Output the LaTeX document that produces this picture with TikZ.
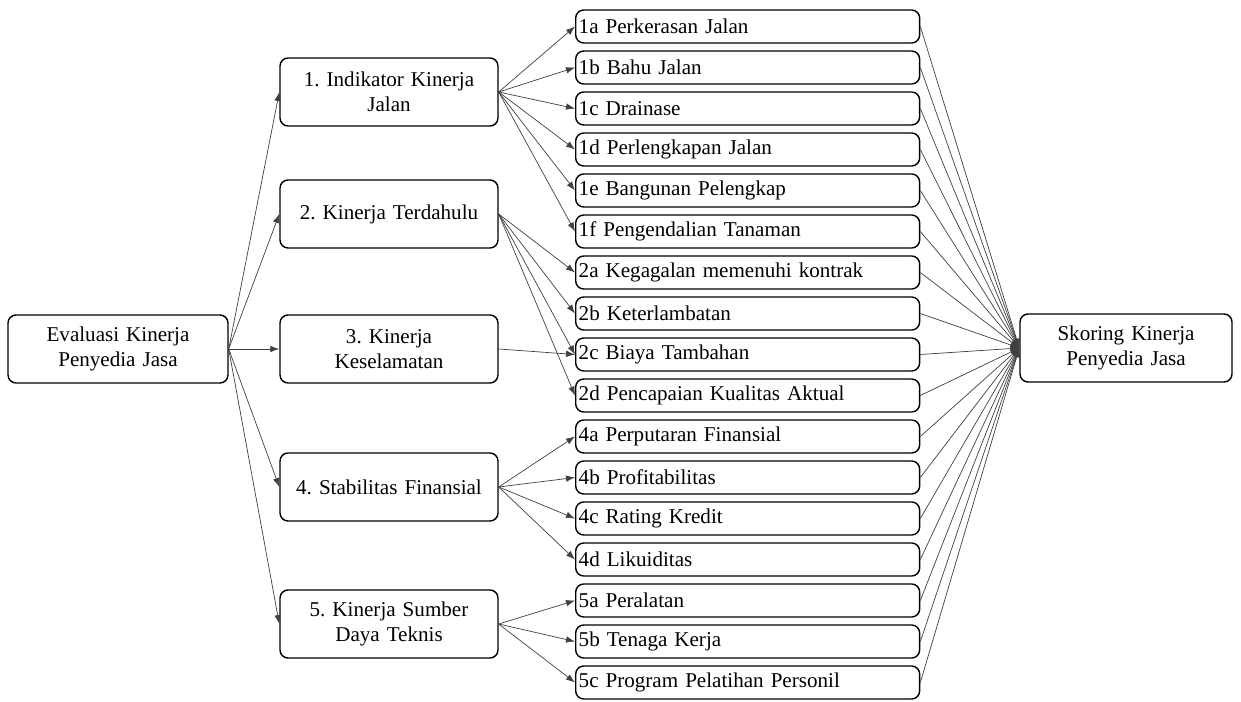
\documentclass[tikz,border=0pt]{standalone}
\usepackage{fontspec}
\setmainfont{Liberation Serif}
\usetikzlibrary{arrows.meta,positioning}
\frenchspacing

\begin{document}
\begin{tikzpicture}[x=0.02cm,y=-0.02cm,
    box/.style={draw, rounded corners=0.16cm, line width=0.8pt, font=\fontsize{12}{14}\selectfont},
    main/.style={box, align=center, minimum width=4.36cm, minimum height=1.36cm, text width=4cm},
    leaf/.style={box, anchor=west, align=left, inner xsep=0.06cm, minimum width=6.88cm, minimum height=0.66cm, text width=6.76cm},
    link/.style={-{Latex[length=1.8mm,width=1.3mm]}, draw=black!75, line width=0.4pt}]
  \useasboundingbox (0,0) rectangle (1241,702);

  % main boxes
  \node[main, minimum width=4.4cm] (eval) at (118,349) {Evaluasi Kinerja\\Penyedia Jasa};
  \node[main] (k1) at (389,92) {1. Indikator Kinerja\\Jalan};
  \node[main] (k2) at (389,214) {2. Kinerja Terdahulu};
  \node[main] (k3) at (389,349) {3. Kinerja\\Keselamatan};
  \node[main] (k4) at (389,487) {4. Stabilitas Finansial};
  \node[main] (k5) at (389,624) {5. Kinerja Sumber\\Daya Teknis};
  \node[main, minimum width=4.24cm] (skor) at (1126,348) {Skoring Kinerja\\Penyedia Jasa};

  % sub-criteria
  \foreach \name/\txt [count=\i from 0] in {
      l1a/1a Perkerasan Jalan, l1b/1b Bahu Jalan, l1c/1c Drainase,
      l1d/1d Perlengkapan Jalan, l1e/1e Bangunan Pelengkap,
      l1f/1f Pengendalian Tanaman, l2a/2a Kegagalan memenuhi kontrak,
      l2b/2b Keterlambatan, l2c/2c Biaya Tambahan,
      l2d/2d Pencapaian Kualitas Aktual, l4a/4a Perputaran Finansial,
      l4b/4b Profitabilitas, l4c/4c Rating Kredit, l4d/4d Likuiditas,
      l5a/5a Peralatan, l5b/5b Tenaga Kerja,
      l5c/5c Program Pelatihan Personil}
    \node[leaf] (\name) at (575,26.5+41*\i) {\txt};

  % connectors
  \foreach \k in {k1,k2,k3,k4,k5}
    \draw[link] (eval.east) -- (\k.west);
  \foreach \l in {l1a,l1b,l1c,l1d,l1e,l1f}
    \draw[link] (k1.east) -- (\l.west);
  \foreach \l in {l2a,l2b,l2c,l2d}
    \draw[link] (k2.east) -- (\l.west);
  \draw[link] (k3.east) -- (l2c.west);
  \foreach \l in {l4a,l4b,l4c,l4d}
    \draw[link] (k4.east) -- (\l.west);
  \foreach \l in {l5a,l5b,l5c}
    \draw[link] (k5.east) -- (\l.west);
  \foreach \l in {l1a,l1b,l1c,l1d,l1e,l1f,l2a,l2b,l2c,l2d,l4a,l4b,l4c,l4d,l5a,l5b,l5c}
    \draw[link] (\l.east) -- (skor.west);
\end{tikzpicture}
\end{document}
